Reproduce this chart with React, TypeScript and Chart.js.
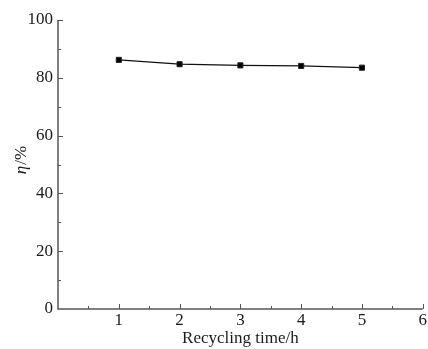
import React, { useEffect, useRef } from "react";
import { Chart, registerables } from "chart.js";

Chart.register(...registerables);

const hours = [1, 2, 3, 4, 5];
const efficiency = [86.2, 84.7, 84.3, 84.1, 83.5];
const xTickLabels = ["1", "2", "3", "4", "5", "6"];
const yTickLabels = ["0", "20", "40", "60", "80", "100"];
const xTitle = "Recycling time/h";
const yTitleSymbol = "η";
const yTitleUnit = "/%";

const FONT = "'Liberation Serif', 'Times New Roman', serif";
const AXIS_COLOR = "#555";
const TEXT_COLOR = "#1a1a1a";

const axisPlugin = {
  id: "inwardAxes",
  afterDraw(chart: any) {
    const { ctx, chartArea } = chart;
    const xs = chart.scales.x;
    const ys = chart.scales.y;
    ctx.save();
    ctx.strokeStyle = AXIS_COLOR;
    ctx.lineWidth = 1.5;
    ctx.beginPath();
    ctx.moveTo(chartArea.left, chartArea.top);
    ctx.lineTo(chartArea.left, chartArea.bottom);
    ctx.lineTo(chartArea.right, chartArea.bottom);
    ctx.stroke();
    ctx.lineWidth = 1;
    xs.ticks.forEach((t: any) => {
      if (t.value === 0) return;
      const px = Math.round(xs.getPixelForValue(t.value)) + 0.5;
      const major = Number.isInteger(t.value);
      ctx.beginPath();
      ctx.moveTo(px, chartArea.bottom);
      ctx.lineTo(px, chartArea.bottom - (major ? 5 : 3));
      ctx.stroke();
    });
    ys.ticks.forEach((t: any) => {
      if (t.value === 0) return;
      const py = Math.round(ys.getPixelForValue(t.value)) + 0.5;
      const major = t.value % 20 === 0;
      ctx.beginPath();
      ctx.moveTo(chartArea.left, py);
      ctx.lineTo(chartArea.left + (major ? 5 : 3), py);
      ctx.stroke();
    });
    // y-axis title with italic symbol
    ctx.fillStyle = TEXT_COLOR;
    ctx.translate(22, (chartArea.top + chartArea.bottom) / 2 - 4);
    ctx.rotate(-Math.PI / 2);
    ctx.textBaseline = "middle";
    ctx.font = `italic 17px ${FONT}`;
    const w1 = ctx.measureText(yTitleSymbol).width;
    ctx.font = `17px ${FONT}`;
    const w2 = ctx.measureText(yTitleUnit).width;
    const start = -(w1 + w2) / 2;
    ctx.textAlign = "left";
    ctx.font = `italic 17px ${FONT}`;
    ctx.fillText(yTitleSymbol, start, 0);
    ctx.font = `17px ${FONT}`;
    ctx.fillText(yTitleUnit, start + w1 + 1, 0);
    ctx.restore();
  },
};

export default function App() {
  const ref = useRef<HTMLCanvasElement | null>(null);
  useEffect(() => {
    if (!ref.current) return;
    const chart = new Chart(ref.current, {
      type: "line",
      data: {
        datasets: [
          {
            data: hours.map((h, i) => ({ x: h, y: efficiency[i] })),
            borderColor: "#111",
            backgroundColor: "#000",
            borderWidth: 1.3,
            pointStyle: "rect",
            pointRadius: 3.6,
            pointBorderWidth: 1,
            pointBorderColor: "#222",
            fill: false,
            tension: 0,
          },
        ],
      },
      options: {
        animation: false,
        responsive: true,
        maintainAspectRatio: false,
        layout: { padding: { top: 20, right: 0, left: 0, bottom: 0 } },
        plugins: { legend: { display: false }, tooltip: { enabled: false } },
        scales: {
          x: {
            type: "linear",
            min: 0,
            max: 6,
            grid: { display: false, drawTicks: false },
            border: { display: false },
            afterFit: (s: any) => {
              s.height = 40;
            },
            ticks: {
              stepSize: 0.5,
              autoSkip: false,
              maxRotation: 0,
              padding: 1,
              color: TEXT_COLOR,
              font: { family: FONT, size: 17 },
              callback: (v: any) => {
                const n = Number(v);
                if (Number.isInteger(n) && n > 0) return xTickLabels[n - 1];
                return "";
              },
            },
            title: {
              display: true,
              text: xTitle,
              color: TEXT_COLOR,
              font: { family: FONT, size: 17 },
              padding: { top: 0, bottom: 0 },
            },
          },
          y: {
            min: 0,
            max: 100,
            grid: { display: false, drawTicks: false },
            border: { display: false },
            afterFit: (s: any) => {
              s.width = 58;
            },
            ticks: {
              stepSize: 10,
              autoSkip: false,
              padding: 5,
              color: TEXT_COLOR,
              font: { family: FONT, size: 17 },
              callback: (v: any) => {
                const n = Number(v);
                if (n % 20 === 0) return yTickLabels[n / 20];
                return "";
              },
            },
          },
        },
      },
      plugins: [axisPlugin],
    });
    return () => chart.destroy();
  }, []);
  return (
    <div style={{ position: "fixed", left: 0, top: 0, width: 428, height: 349, background: "#fff" }}>
      <canvas ref={ref} />
    </div>
  );
}
